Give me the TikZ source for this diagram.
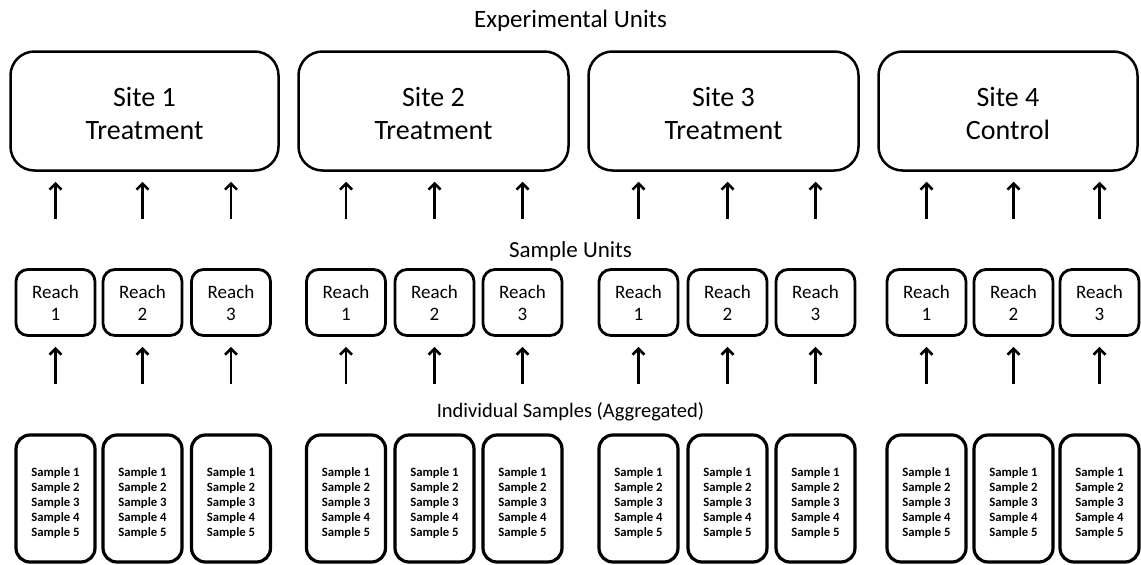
\documentclass[tikz,border=0pt]{standalone}
\usepackage{fontspec}
\setmainfont{Carlito}
\usetikzlibrary{arrows.meta}
\newcommand\toppad[1]{\rule{0pt}{#1}}
\begin{document}
\begin{tikzpicture}[x=1pt,y=1pt,
  sitebox/.style={draw, line width=2.5pt, rounded corners=24pt, minimum height=119pt,
    align=center, inner sep=0pt, font=\fontsize{28}{33.5}\selectfont},
  reachbox/.style={draw, line width=2.8pt, rounded corners=12pt, minimum width=79pt,
    minimum height=66pt, align=center, inner sep=0pt, font=\fontsize{19}{22}\selectfont},
  sampbox/.style={draw, line width=3.2pt, rounded corners=14pt, minimum width=79pt,
    minimum height=127pt, align=center, inner sep=0pt, font=\fontsize{12.7}{15}\selectfont\bfseries},
  heading/.style={inner sep=0pt},
  arr/.style={-{Straight Barb[length=6pt,width=12pt]}, line width=2.6pt,
    shorten <=49pt, shorten >=10pt}]
\useasboundingbox (0,0) rectangle (1141,-565);
\node[heading, font=\fontsize{25}{30}\selectfont] (t1) at (570.5,-21) {Experimental Units};
\node[heading, font=\fontsize{23}{28}\selectfont] (t2) at (570.5,-251) {Sample Units};
\node[heading, font=\fontsize{20.5}{25}\selectfont] (t3) at (570.5,-412) {Individual Samples (Aggregated)};
\node[sitebox, minimum width=268pt] (s1) at (144.5,-111) {\toppad{24.5pt}Site 1\\Treatment};
\node[sitebox, minimum width=270pt] (s2) at (433.5,-111) {\toppad{24.5pt}Site 2\\Treatment};
\node[sitebox, minimum width=270pt] (s3) at (723.5,-111) {\toppad{24.5pt}Site 3\\Treatment};
\node[sitebox, minimum width=259pt] (s4) at (1008,-111) {\toppad{24.5pt}Site 4\\Control};
\foreach \i/\xa/\xb/\xc in {1/55.5/142.5/231, 2/346/434.5/522.5, 3/638.5/727.5/815.5, 4/926.5/1013.5/1099.5}{
  \foreach \j/\x in {1/\xa, 2/\xb, 3/\xc}{
    \node[reachbox] (r\i\j) at (\x,-302.5) {Reach\\\j};
    \node[sampbox] (m\i\j) at (\x,-498.5) {\toppad{18.5pt}Sample 1\\Sample 2\\Sample 3\\Sample 4\\Sample 5};
    \draw[arr] (m\i\j.north) -- (r\i\j.south);
    \draw[arr] (r\i\j.north) -- (r\i\j.north |- s\i.south);
  }
}
\end{tikzpicture}
\end{document}
